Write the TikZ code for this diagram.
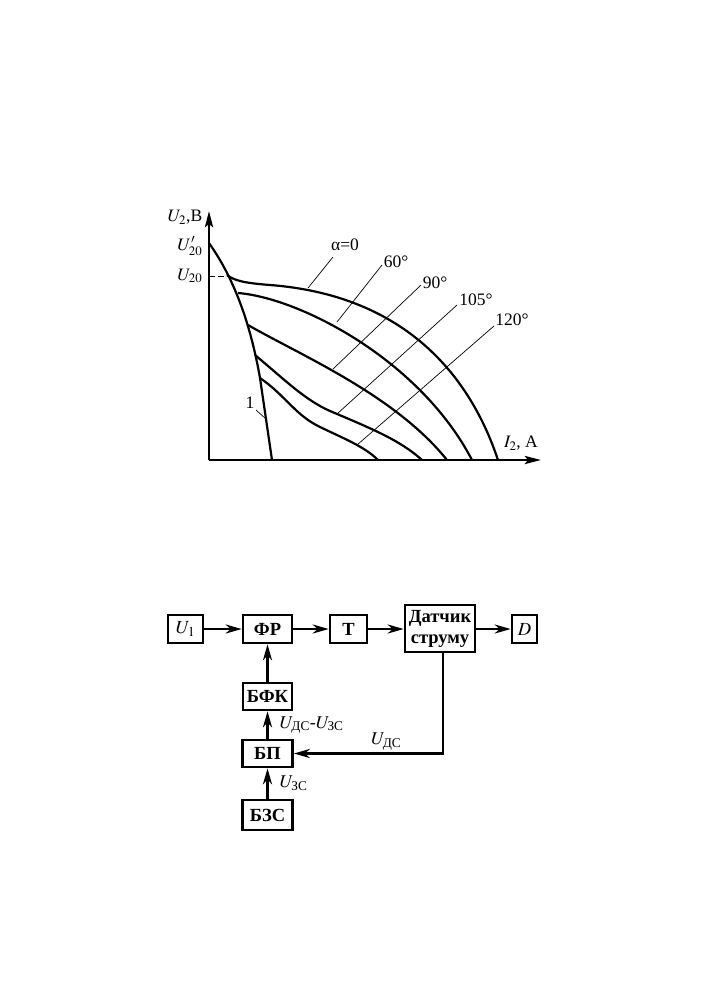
\documentclass[tikz,border=0pt]{standalone}
\usepackage{amsmath}
\usepackage{mathptmx}
\usepackage{fontspec}
\setmainfont{Liberation Serif}
\usetikzlibrary{arrows.meta,positioning}

\begin{document}
\begin{tikzpicture}[x=1pt,y=-1pt,
    axis/.style={line width=2.8pt, -{Stealth[length=16pt,width=8pt,inset=3pt]}},
    curve/.style={line width=2.2pt},
    leader/.style={line width=0.7pt},
    lbl/.style={font=\fontsize{17.5}{19}\selectfont, inner sep=0pt},
    block/.style={draw, line width=2.6pt, inner sep=0pt, font=\fontsize{18.5}{21}\selectfont\bfseries},
    flow/.style={line width=2.6pt, -{Stealth[length=16pt,width=9pt,inset=5pt]}},
    sig/.style={font=\fontsize{18}{20}\selectfont, inner sep=1pt}]
    \useasboundingbox (0,0) rectangle (706,999);

    % Axes
    \coordinate (o) at (209,460);
    \draw[axis] (o) -- (209,211);
    \draw[axis] (o) -- (541,460);
    \node[lbl] (ylab) at (185,217) {$U_2$,В};
    \node[lbl] (xlab) at (521,443) {$I_2$, А};
    \node[lbl] (u20p) at (190,246) {$U'_{20}$};
    \node[lbl] (u20) at (190,276) {$U_{20}$};
    \draw[line width=0.9pt, dash pattern=on 6pt off 3pt] (209,276) -- (230,276);

    % Characteristic 1
    \draw[curve] (209,243) .. controls (228,270) and (248,310) .. (260,378) -- (272,460);
    \node[lbl] (one) at (250,403) {1};
    \draw[leader] (256,410) -- (266,419);

    % Characteristics for alpha
    \draw[curve] (227,275) .. controls (235,281) and (245,283) .. (270,285)
        .. controls (400,295) and (468,370) .. (498,460);
    \draw[curve] (238,293) .. controls (300,298) and (420,360) .. (472,460);
    \draw[curve] (248,325) .. controls (300,355) and (395,395) .. (447,460);
    \draw[curve] (255,355) .. controls (285,380) and (305,400) .. (330,411)
        .. controls (370,428) and (400,440) .. (422,460);
    \draw[curve] (260,378) .. controls (285,395) and (295,415) .. (320,427)
        .. controls (345,439) and (365,447) .. (378,460);

    % Leaders and labels
    \draw[leader] (308,288) -- (333,257);
    \node[lbl] (a0) at (345,245) {α=0};
    \draw[leader] (337,322) -- (382,265);
    \node[lbl] (a60) at (396,262) {60°};
    \draw[leader] (333,369) -- (421,285);
    \node[lbl] (a90) at (435,283) {90°};
    \draw[leader] (337,414) -- (457,305);
    \node[lbl] (a105) at (476,300) {105°};
    \draw[leader] (357,445) -- (494,326);
    \node[lbl] (a120) at (512,320) {120°};

    % Block diagram
    \node[block, minimum width=35pt, minimum height=28pt] (u1) at (185.5,629) {\mdseries$U_1$};
    \node[block, minimum width=49pt, minimum height=28pt] (fr) at (267.5,629) {ФР};
    \node[block, minimum width=37pt, minimum height=28pt] (t) at (348.5,629) {Т};
    \node[block, minimum width=70pt, minimum height=47pt, align=center] (sensor) at (440,628.5) {Датчик\\струму};
    \node[block, minimum width=25pt, minimum height=28pt] (d) at (524.5,629) {\mdseries$D$};
    \node[block, minimum width=49pt, minimum height=27pt] (bfk) at (267.5,696.5) {БФК};
    \node[block, minimum width=50pt, minimum height=27pt] (bp) at (267.5,753.5) {БП};
    \node[block, minimum width=50pt, minimum height=30pt] (bzs) at (267.5,815) {БЗС};

    % Signal paths
    \draw[flow] (u1) -- (fr);
    \draw[flow] (fr) -- (t);
    \draw[flow] (t.east) -- (t.east -| sensor.west);
    \draw[flow] (sensor.east |- d) -- (d);
    \draw[flow] (bfk) -- (fr);
    \draw[flow] (bp) -- node[sig, right=10pt] {$U_{\text{ДС}}$-$U_{\text{ЗС}}$} (bfk);
    \draw[flow] (bzs) -- node[sig, right=10pt] {$U_{\text{ЗС}}$} (bp);
    \draw[flow] ([xshift=3pt]sensor.south) |- node[sig, pos=0.69, above=1pt] {$U_{\text{ДС}}$} (bp.east);
\end{tikzpicture}
\end{document}
